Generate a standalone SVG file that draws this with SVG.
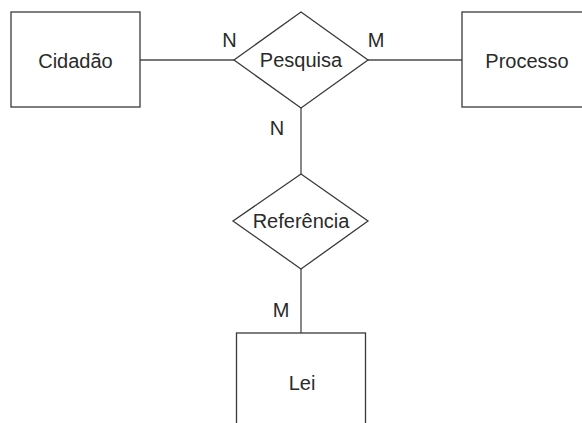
<svg xmlns="http://www.w3.org/2000/svg" width="582" height="423" viewBox="0 0 582 423">
<style>
.shape{fill:#fff;stroke:#3a3a3a;stroke-width:1.3}
.conn{stroke:#4a4a4a;stroke-width:1.3;fill:none}
text{font-family:"Liberation Sans",Arial,sans-serif;font-size:20px;fill:#2a2a2a}
.c{text-anchor:middle}
</style>
<rect width="582" height="423" fill="#fff"/>
<g id="connectors">
<line class="conn" x1="140" y1="60" x2="234" y2="60"/>
<line class="conn" x1="368" y1="60" x2="462" y2="60"/>
<line class="conn" x1="301" y1="108" x2="301" y2="174"/>
<line class="conn" x1="301" y1="269" x2="301" y2="333"/>
<text x="229.5" y="47" class="c">N</text>
<text x="376" y="47" class="c">M</text>
<text x="277" y="135" class="c">N</text>
<text x="281" y="317" class="c">M</text>
</g>
<g id="cidadao">
<rect class="shape" x="11" y="12" width="129" height="95"/>
<text x="75.5" y="68" class="c">Cidadão</text>
</g>
<g id="pesquisa">
<polygon class="shape" points="301,12 368,60 301,108 234,60"/>
<text x="301" y="67" class="c">Pesquisa</text>
</g>
<g id="processo">
<rect class="shape" x="462" y="12" width="130" height="95"/>
<text x="527" y="68" class="c">Processo</text>
</g>
<g id="referencia">
<polygon class="shape" points="301,174 368,221 301,269 233,221"/>
<text x="301" y="228" class="c">Referência</text>
</g>
<g id="lei">
<rect class="shape" x="236.5" y="333" width="129" height="100"/>
<text x="302" y="390" class="c">Lei</text>
</g>
</svg>
